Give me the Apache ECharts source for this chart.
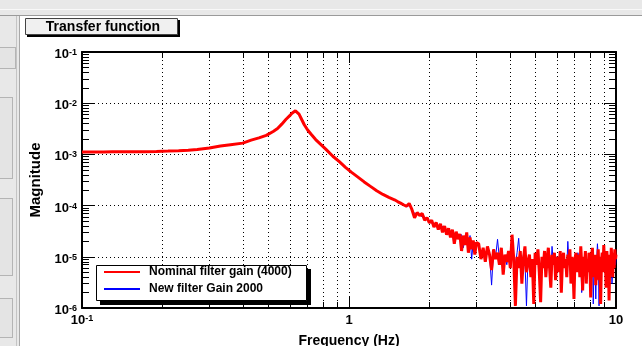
<!DOCTYPE html>
<html><head><meta charset="utf-8">
<script src="https://cdn.jsdelivr.net/npm/echarts@6/dist/echarts.min.js"></script>
<style>
html,body{margin:0;padding:0;background:#e8e8e8;width:642px;height:346px;overflow:hidden;position:relative}
#topbar{position:absolute;left:0;top:0;width:642px;height:15px;background:#e8e8e8;border-bottom:1px solid #9a9a9a}
#topline{position:absolute;left:0;top:9px;width:642px;height:1px;background:#f8f8f8}
#canvasbg{position:absolute;left:20px;top:16px;width:622px;height:330px;background:#fff}
#vline1{position:absolute;left:16px;top:16px;width:1px;height:330px;background:#c4c4c4}
#vline2{position:absolute;left:19px;top:16px;width:1px;height:330px;background:#a8a8a8}
.box{position:absolute;left:0;width:12px;border:1px solid #b4b4b4;border-left:none;background:#e4e4e4}
#chart{position:absolute;left:0;top:0;width:642px;height:346px}
</style></head>
<body>
<div id="topbar"></div><div id="topline"></div>
<div id="canvasbg"></div><div id="vline1"></div><div id="vline2"></div>
<div class="box" style="top:47px;height:20px;width:15px"></div>
<div class="box" style="top:97px;height:80px"></div>
<div class="box" style="top:198px;height:76px"></div>
<div class="box" style="top:298px;height:38px"></div>
<div id="chart"></div>
<script>
// ---- data ----
const seriesNames = ['Nominal filter gain (4000)', 'New filter Gain 2000'];
const xTickValues = [0.1, 1, 10];

// smooth, common part of both curves (Hz, magnitude)
const freqSmooth = [0.1,0.11,0.12,0.13,0.14,0.15,0.17,0.19,0.21,0.23,0.25,0.27,0.3,0.33,0.36,0.4,0.43,0.46,
  0.49,0.52,0.54,0.56,0.58,0.6,0.61,0.62,0.63,0.64,0.65,0.66,0.68,0.7,0.72,0.75,0.78,0.82,0.87,0.92,0.97,1.02,
  1.08,1.14,1.2,1.27,1.34,1.41];
const magSmooth = [1.12e-3,1.12e-3,1.12e-3,1.13e-3,1.13e-3,1.13e-3,1.13e-3,1.14e-3,1.16e-3,1.18e-3,1.2e-3,1.25e-3,
  1.33e-3,1.46e-3,1.55e-3,1.66e-3,1.9e-3,2.1e-3,2.35e-3,2.8e-3,3.2e-3,3.9e-3,4.8e-3,5.7e-3,6.3e-3,6.8e-3,7.1e-3,
  6.7e-3,6.1e-3,5.2e-3,3.8e-3,3.0e-3,2.5e-3,1.95e-3,1.6e-3,1.25e-3,9.2e-4,7.2e-4,5.6e-4,4.5e-4,3.6e-4,2.9e-4,
  2.4e-4,1.95e-4,1.65e-4,1.45e-4];

// noisy high-frequency part (Hz)
const freqNoisy = [1.48,1.52,1.56,1.60,1.64,1.68,1.72,1.76,1.80,1.84,1.88,1.92,1.96,2.00,2.04,2.08,2.12,2.16,2.20,
  2.24,2.28,2.32,2.36,2.40,2.44,2.48,2.52,2.56,2.60,2.64,2.68,2.72,2.76,2.80,2.84,2.88,2.92,2.96,3.00,
  3.06,3.12,3.18,3.24,3.30,3.36,3.42,3.48,3.54,3.60,
  3.66,3.72,3.78,3.84,3.90,3.96,4.02,4.08,4.14,4.20,
  4.26,4.32,4.38,4.44,4.50,4.56,4.62,4.68,4.74,4.80,
  4.86,4.92,4.98,5.04,5.10,5.16,5.22,5.28,5.34,5.40,
  5.46,5.52,5.58,5.64,5.70,5.76,5.82,5.88,5.94,6.00,
  6.06,6.12,6.18,6.24,6.30,6.36,6.42,6.48,6.54,6.60,
  6.66,6.72,6.78,6.84,6.90,6.96,7.02,7.08,7.14,7.20,
  7.26,7.32,7.38,7.44,7.50,7.56,7.62,7.68,7.74,7.80,
  7.86,7.92,7.98,8.04,8.10,8.16,8.22,8.28,8.34,8.40,
  8.46,8.52,8.58,8.64,8.70,8.76,8.82,8.88,8.94,9.00,
  9.06,9.12,9.18,9.24,9.30,9.36,9.42,9.48,9.54,9.60,
  9.66,9.72,9.78,9.84,9.90,9.96,10.0];

const nominalNoisy = [130e-6,120e-6,112e-6,104e-6,97e-6,110e-6,84e-6,58e-6,73e-6,64e-6,70e-6,52e-6,58e-6,46e-6,
  52e-6,38e-6,47e-6,34e-6,44e-6,30e-6,40e-6,27e-6,36e-6,24e-6,34e-6,18e-6,31e-6,22e-6,28e-6,13e-6,26e-6,17e-6,
  30e-6,12e-6,24e-6,14e-6,21e-6,11e-6,19e-6,
  18e-6,9e-6,15e-6,8e-6,16e-6,11e-6,5.5e-6,14e-6,9e-6,12e-6,
  7e-6,15e-6,4.5e-6,11e-6,8e-6,13e-6,6e-6,27e-6,9e-6,1.1e-6,
  10e-6,6e-6,13e-6,3e-6,9e-6,16e-6,5e-6,8e-6,11e-6,4e-6,
  9e-6,1.2e-6,12e-6,7e-6,14e-6,5e-6,1.3e-6,10e-6,6e-6,13e-6,
  4e-6,9e-6,15e-6,6e-6,2.5e-6,11e-6,7e-6,12e-6,3.5e-6,8e-6,
  10e-6,5e-6,13e-6,2e-6,8e-6,12e-6,6e-6,9e-6,4e-6,11e-6,
  7e-6,14e-6,3e-6,10e-6,6e-6,1.5e-6,9e-6,12e-6,5e-6,8e-6,
  11e-6,4e-6,16e-6,7e-6,2.2e-6,10e-6,6e-6,13e-6,3e-6,9e-6,
  5e-6,12e-6,8e-6,1.6e-6,10e-6,15e-6,4e-6,7e-6,11e-6,2.8e-6,
  9e-6,6e-6,14e-6,3.5e-6,10e-6,1.2e-6,8e-6,12e-6,5e-6,17e-6,
  6e-6,10e-6,2.5e-6,13e-6,7e-6,9e-6,1.4e-6,11e-6,5e-6,15e-6,
  8e-6,4e-6,12e-6,6e-6,14e-6,9e-6,11e-6];

const newGainNoisy = [128e-6,122e-6,110e-6,106e-6,95e-6,100e-6,86e-6,70e-6,71e-6,66e-6,60e-6,60e-6,52e-6,50e-6,
  45e-6,44e-6,40e-6,38e-6,36e-6,40e-6,33e-6,30e-6,31e-6,26e-6,30e-6,25e-6,27e-6,24e-6,22e-6,27e-6,15e-6,22e-6,
  19e-6,16e-6,26e-6,9e-6,20e-6,15e-6,17e-6,
  16e-6,10e-6,13e-6,9e-6,12e-6,11e-6,2.8e-6,14e-6,10e-6,22e-6,
  9e-6,12e-6,6e-6,10e-6,7e-6,12e-6,8e-6,18e-6,10e-6,7e-6,
  12e-6,23e-6,8e-6,6e-6,11e-6,9e-6,1.1e-6,9e-6,7e-6,6e-6,
  8e-6,5e-6,10e-6,9e-6,11e-6,7e-6,4e-6,9e-6,8e-6,10e-6,
  6e-6,11e-6,10e-6,7e-6,5e-6,16e-6,8e-6,9e-6,6e-6,10e-6,
  8e-6,7e-6,11e-6,5e-6,9e-6,10e-6,7e-6,8e-6,6e-6,20e-6,
  9e-6,10e-6,6e-6,8e-6,7e-6,4e-6,10e-6,9e-6,7e-6,12e-6,
  9e-6,6e-6,12e-6,2e-6,5e-6,9e-6,8e-6,10e-6,6e-6,8e-6,
  7e-6,10e-6,6e-6,3e-6,9e-6,11e-6,1.2e-6,8e-6,9e-6,1.5e-6,
  8e-6,18e-6,10e-6,1.1e-6,9e-6,3e-6,7e-6,10e-6,6e-6,12e-6,
  8e-6,9e-6,4e-6,10e-6,8e-6,7e-6,3e-6,9e-6,7e-6,11e-6,
  3e-6,6e-6,10e-6,8e-6,11e-6,7e-6,9e-6];

// ---- build ----
function pairs(fs, vs) { return fs.map((f, i) => [f, vs[i]]); }
const nominalData = pairs(freqSmooth, magSmooth).concat(pairs(freqNoisy, nominalNoisy));
const newGainData = pairs(freqSmooth, magSmooth).concat(pairs(freqNoisy, newGainNoisy));

const FF = "'Liberation Sans', Arial, Helvetica, sans-serif";
const rich = {
  b: { fontSize: 13, fontWeight: 'bold', color: '#000', fontFamily: FF, lineHeight: 13, padding: [2, 0, 0, 0], verticalAlign: 'bottom' },
  e: { fontSize: 9, fontWeight: 'bold', color: '#000', fontFamily: FF, lineHeight: 9, verticalAlign: 'top' }
};
function expOf(v) { return Math.round(Math.log10(v)); }
function yLab(v) { return '{b|10}{e|' + expOf(v) + '}'; }
function xLab(v) {
  const e = expOf(v);
  if (e === 0) return '{b|1}';
  if (e === 1) return '{b|10}';
  return '{b|10}{e|' + e + '}';
}
const black = '#000';
const dotted = { color: black, width: 1, type: [1, 3] };

function xAx(primary) {
  return {
    type: 'log', logBase: 10, min: xTickValues[0], max: xTickValues[xTickValues.length - 1],
    position: primary ? 'bottom' : 'top',
    axisLine: { show: true, onZero: false, lineStyle: { color: black, width: 2 } },
    axisTick: { show: true, inside: true, length: 11, lineStyle: { color: black } },
    minorTick: { show: true, splitNumber: 9, length: 6, lineStyle: { color: black } },
    splitLine: { show: primary, lineStyle: dotted },
    minorSplitLine: { show: primary, lineStyle: dotted },
    axisLabel: primary ? { show: true, formatter: xLab, rich: rich, margin: 6, showMinLabel: true, showMaxLabel: true, hideOverlap: false } : { show: false },
    name: primary ? 'Frequency (Hz)' : '', nameLocation: 'middle', nameGap: 26,
    nameTextStyle: { fontSize: 14, fontWeight: 'bold', fontFamily: FF, color: black }
  };
}
function yAx(primary) {
  return {
    type: 'log', logBase: 10, min: 1e-6, max: 1e-1,
    position: primary ? 'left' : 'right',
    axisLine: { show: true, onZero: false, lineStyle: { color: black, width: 2 } },
    axisTick: { show: true, inside: true, length: 12, lineStyle: { color: black } },
    minorTick: { show: true, splitNumber: 9, length: 7, lineStyle: { color: black } },
    splitLine: { show: primary, lineStyle: dotted },
    minorSplitLine: { show: false },
    axisLabel: primary ? { show: true, formatter: yLab, rich: rich, margin: 5, padding: [5, 0, 0, 0], showMinLabel: true, showMaxLabel: true, hideOverlap: false } : { show: false },
    name: primary ? 'Magnitude' : '', nameLocation: 'middle', nameGap: 31, nameRotate: 90,
    nameTextStyle: { fontSize: 15, fontWeight: 'bold', fontFamily: FF, color: black }
  };
}

const chart = echarts.init(document.getElementById('chart'), null, { renderer: 'canvas' });
chart.setOption({
  animation: false,
  backgroundColor: 'transparent',
  grid: { left: 82, right: 26, top: 52, bottom: 38, containLabel: false, outerBoundsMode: 'none' },
  xAxis: [xAx(true), xAx(false)],
  yAxis: [yAx(true), yAx(false)],
  legend: {
    orient: 'vertical', left: 103, top: 266, padding: 0, itemGap: 5,
    itemWidth: 36, itemHeight: 14, selectedMode: false, z: 20,
    itemStyle: { color: 'rgba(0,0,0,0)', borderColor: 'rgba(0,0,0,0)', borderWidth: 0 },
    data: [seriesNames[0], seriesNames[1]],
    textStyle: { fontSize: 12, fontWeight: 'bold', fontFamily: FF, color: black, padding: [0, 0, 0, 4] }
  },
  graphic: [
    { type: 'rect', z: 15, shape: { x: 100, y: 269, width: 211, height: 36 }, style: { fill: '#000' } },
    { type: 'rect', z: 16, shape: { x: 96.5, y: 265.5, width: 210, height: 35 }, style: { fill: '#fff', stroke: '#000', lineWidth: 1 } },
    { type: 'rect', z: 15, shape: { x: 27, y: 20, width: 153, height: 17 }, style: { fill: '#000' } },
    { type: 'rect', z: 16, shape: { x: 25.5, y: 18.5, width: 152, height: 16 }, style: { fill: '#f0f0f0', stroke: '#444', lineWidth: 1 } },
    { type: 'text', z: 17, x: 103, y: 27, style: { text: 'Transfer function', font: "bold 14px 'Liberation Sans', Arial, sans-serif", fill: '#000', align: 'center', verticalAlign: 'middle' } }
  ],
  series: [
    { name: seriesNames[1], type: 'line', xAxisIndex: 0, yAxisIndex: 0, symbol: 'none', showSymbol: false,
      lineStyle: { color: '#0000ff', width: 1 }, itemStyle: { color: '#0000ff' }, data: newGainData, z: 2 },
    { name: seriesNames[0], type: 'line', xAxisIndex: 0, yAxisIndex: 0, symbol: 'none', showSymbol: false,
      lineStyle: { color: '#ff0000', width: 3 }, itemStyle: { color: '#ff0000' }, data: nominalData, z: 3 }
  ]
});
</script>
</body></html>
